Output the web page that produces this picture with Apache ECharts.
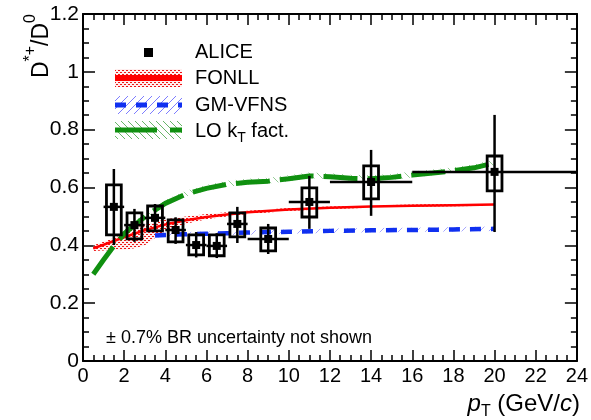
<!DOCTYPE html>
<html><head><meta charset="utf-8">
<script src="https://cdn.jsdelivr.net/npm/echarts@6/dist/echarts.min.js"></script>
<style>html,body{margin:0;padding:0;background:#fff}#c{width:591px;height:420px}</style>
</head><body><div id="c"></div>
<script>
// ---------------- data ----------------
const aliceX    = [1.5, 2.5, 3.5, 4.5, 5.5, 6.5, 7.5, 9, 11, 14, 20];
const aliceXLo  = [1, 2, 3, 4, 5, 6, 7, 8, 10, 12, 16];
const aliceXHi  = [2, 3, 4, 5, 6, 7, 8, 10, 12, 16, 24];
const aliceY    = [0.533, 0.470, 0.495, 0.453, 0.401, 0.398, 0.474, 0.422, 0.550, 0.619, 0.654];
const aliceStatLo = [0.401, 0.412, 0.446, 0.405, 0.358, 0.356, 0.408, 0.370, 0.457, 0.502, 0.446];
const aliceStatHi = [0.664, 0.526, 0.543, 0.497, 0.446, 0.442, 0.533, 0.474, 0.640, 0.730, 0.851];
const aliceSysLo  = [0.436, 0.422, 0.450, 0.412, 0.367, 0.364, 0.429, 0.381, 0.498, 0.561, 0.588];
const aliceSysHi  = [0.609, 0.512, 0.536, 0.488, 0.436, 0.436, 0.512, 0.460, 0.599, 0.675, 0.709];

const fonllX  = [0.5, 1, 1.5, 2, 2.5, 3, 3.5, 4, 5, 6, 7, 8, 10, 12, 14, 16, 18, 20];
const fonllC  = [0.390, 0.402, 0.415, 0.428, 0.440, 0.452, 0.462, 0.472, 0.487, 0.498, 0.507, 0.514, 0.524, 0.530, 0.534, 0.537, 0.539, 0.541];
const fonllLo = [0.380, 0.382, 0.385, 0.385, 0.390, 0.400, 0.425, 0.450, 0.475, 0.490, 0.500, 0.508, 0.519, 0.526, 0.530, 0.533, 0.535, 0.537];
const fonllHi = [0.400, 0.412, 0.425, 0.440, 0.460, 0.470, 0.480, 0.490, 0.500, 0.508, 0.514, 0.520, 0.529, 0.534, 0.538, 0.541, 0.543, 0.545];

const gmX  = [3.5, 4, 5, 6, 7, 8, 10, 12, 14, 16, 18, 20];
const gmC  = [0.434, 0.436, 0.438, 0.440, 0.442, 0.444, 0.447, 0.450, 0.452, 0.453, 0.455, 0.457];
const gmLo = [0.427, 0.429, 0.431, 0.433, 0.435, 0.437, 0.440, 0.443, 0.445, 0.446, 0.448, 0.450];
const gmHi = [0.442, 0.444, 0.446, 0.448, 0.450, 0.452, 0.455, 0.458, 0.460, 0.461, 0.463, 0.465];

const loX  = [0.5, 1, 1.5, 2, 2.5, 3, 3.5, 4, 5, 6, 7, 8, 9, 10, 11, 12, 13, 14, 15, 16, 17, 18, 19, 20];
const loC  = [0.300, 0.350, 0.398, 0.440, 0.470, 0.498, 0.522, 0.545, 0.577, 0.597, 0.611, 0.618, 0.622, 0.630, 0.640, 0.637, 0.632, 0.630, 0.635, 0.643, 0.650, 0.658, 0.668, 0.685];
const loLo = [0.292, 0.342, 0.390, 0.432, 0.462, 0.490, 0.514, 0.537, 0.569, 0.589, 0.603, 0.610, 0.614, 0.622, 0.632, 0.629, 0.624, 0.622, 0.627, 0.635, 0.642, 0.650, 0.660, 0.677];
const loHi = [0.312, 0.362, 0.410, 0.452, 0.482, 0.510, 0.534, 0.557, 0.589, 0.609, 0.623, 0.630, 0.634, 0.642, 0.652, 0.649, 0.644, 0.642, 0.647, 0.655, 0.662, 0.670, 0.680, 0.697];

const FONT = "'Liberation Sans', Arial, Helvetica, sans-serif";

// ---------------- patterns ----------------
function dotPattern(color) {
  const c = document.createElement('canvas'); c.width = 4; c.height = 4;
  const g = c.getContext('2d');
  g.fillStyle = 'rgba(255,210,210,0.35)'; g.fillRect(0, 0, 4, 4);
  g.fillStyle = color;
  g.fillRect(0, 0, 2, 1); g.fillRect(2, 2, 2, 1);
  return { image: c, repeat: 'repeat' };
}
function hatchPattern(color, dir, size) {
  const c = document.createElement('canvas'); c.width = size; c.height = size;
  const g = c.getContext('2d');
  g.strokeStyle = color; g.lineWidth = 1;
  g.beginPath();
  if (dir > 0) {
    g.moveTo(0, size); g.lineTo(size, 0);
    g.moveTo(-2, 2); g.lineTo(2, -2);
    g.moveTo(size - 2, size + 2); g.lineTo(size + 2, size - 2);
  } else {
    g.moveTo(0, 0); g.lineTo(size, size);
    g.moveTo(-2, size - 2); g.lineTo(2, size + 2);
    g.moveTo(size - 2, -2); g.lineTo(size + 2, 2);
  }
  g.stroke();
  return { image: c, repeat: 'repeat' };
}
const redDots = dotPattern('rgba(235,0,0,0.9)');
const blueHatch = hatchPattern('rgba(80,80,255,0.5)', 1, 9);
const greenHatch = hatchPattern('rgba(40,150,40,0.5)', -1, 8);
const blueHatchLeg = hatchPattern('rgba(70,70,255,0.7)', 1, 8);
const greenHatchLeg = hatchPattern('rgba(40,150,40,0.7)', -1, 7);

function bandSeries(xs, lo, hi, fill, z) {
  return {
    type: 'custom', coordinateSystem: 'cartesian2d', silent: true, z: z,
    data: [[xs[0], lo[0]]],
    renderItem: function (params, api) {
      const pts = [];
      for (let i = 0; i < xs.length; i++) pts.push(api.coord([xs[i], hi[i]]));
      for (let i = xs.length - 1; i >= 0; i--) pts.push(api.coord([xs[i], lo[i]]));
      return { type: 'polygon', shape: { points: pts }, style: { fill: fill, stroke: null } };
    }
  };
}
const zip = (a, b) => a.map((v, i) => [v, b[i]]);

const aliceData = aliceX.map((x, i) => [x, aliceY[i], aliceXLo[i], aliceXHi[i], aliceStatLo[i], aliceStatHi[i], aliceSysLo[i], aliceSysHi[i]]);

function axisCommon(extra) {
  return Object.assign({
    type: 'value',
    splitLine: { show: false },
    axisLine: { show: true, onZero: false, lineStyle: { color: '#000', width: 2 } },
    axisTick: { show: true, inside: true, length: 12, lineStyle: { color: '#000', width: 1.5 } },
    minorTick: { show: true, splitNumber: 4, length: 6, lineStyle: { color: '#000', width: 1.5 } },
    minorSplitLine: { show: false },
    axisLabel: { fontSize: 20, color: '#000', fontFamily: FONT, margin: 5 }
  }, extra);
}

const chart = echarts.init(document.getElementById('c'), null, { renderer: 'canvas' });
chart.setOption({
  animation: false,
  backgroundColor: '#fff',
  grid: { left: 83, right: 10, top: 14, bottom: 59, containLabel: false },
  xAxis: [
    axisCommon({ min: 0, max: 24, interval: 2, position: 'bottom', axisTick: { show: true, inside: true, length: 11, lineStyle: { color: '#000', width: 1.5 } } }),
    axisCommon({ min: 0, max: 24, interval: 2, position: 'top', axisLabel: { show: false }, axisTick: { show: true, inside: true, length: 11, lineStyle: { color: '#000', width: 1.5 } } })
  ],
  yAxis: [
    axisCommon({ min: 0, max: 1.2, interval: 0.2, position: 'left', axisLabel: { fontSize: 21, color: '#000', fontFamily: FONT, margin: 4 } }),
    axisCommon({ min: 0, max: 1.2, interval: 0.2, position: 'right', axisLabel: { show: false } })
  ],
  series: [
    bandSeries(fonllX, fonllLo, fonllHi, redDots, 1),
    bandSeries(gmX, gmLo, gmHi, blueHatch, 1),
    bandSeries(loX, loLo, loHi, greenHatch, 1),
    { name: 'FONLL', type: 'line', data: zip(fonllX, fonllC), showSymbol: false, symbol: 'none', z: 3,
      lineStyle: { color: '#ff0000', width: 2.5 } },
    { name: 'GM-VFNS', type: 'line', data: zip(gmX, gmC), showSymbol: false, symbol: 'none', z: 3,
      lineStyle: { color: '#1030f0', width: 4.5, type: [11, 10] } },
    { name: 'LO kT fact.', type: 'line', data: zip(loX, loC), showSymbol: false, symbol: 'none', z: 3,
      lineStyle: { color: '#109010', width: 5, type: [34, 10] } },
    { name: 'ALICE', type: 'custom', coordinateSystem: 'cartesian2d', z: 5, data: aliceData,
      renderItem: function (params, api) {
        const x = api.value(0), y = api.value(1);
        const c = api.coord([x, y]);
        const hl = api.coord([api.value(2), y]), hr = api.coord([api.value(3), y]);
        const vt = api.coord([x, api.value(5)]), vb = api.coord([x, api.value(4)]);
        const bt = api.coord([x - 0.36, api.value(7)]), bb = api.coord([x + 0.36, api.value(6)]);
        const ls = { stroke: '#000', lineWidth: 2.5 };
        return { type: 'group', children: [
          { type: 'line', shape: { x1: hl[0], y1: hl[1], x2: hr[0], y2: hr[1] }, style: ls },
          { type: 'line', shape: { x1: vt[0], y1: vt[1], x2: vb[0], y2: vb[1] }, style: ls },
          { type: 'rect', shape: { x: bt[0], y: bt[1], width: bb[0] - bt[0], height: bb[1] - bt[1] },
            style: { fill: null, stroke: '#000', lineWidth: 2.8 } },
          { type: 'rect', shape: { x: c[0] - 4, y: c[1] - 4, width: 8, height: 8 }, style: { fill: '#000' } }
        ] };
      }
    }
  ],
  graphic: [
    // y axis title
    { type: 'text', x: 38, y: 14, rotation: Math.PI / 2, z: 10,
      style: { text: '{n|D}{s|*+}{n|/D}{s|0}', align: 'right', verticalAlign: 'middle', fill: '#000',
        rich: { n: { fontSize: 23, fontFamily: FONT, fill: '#000', lineHeight: 30, verticalAlign: 'bottom' },
                s: { fontSize: 16, fontFamily: FONT, fill: '#000', lineHeight: 30, verticalAlign: 'top' } } } },
    // x axis title
    { type: 'text', x: 580, y: 404, z: 10,
      style: { text: '{i|p}{sub|T}{n| (GeV/}{i|c}{n|)}', align: 'right', verticalAlign: 'middle', fill: '#000',
        rich: { n: { fontSize: 24, fontFamily: FONT, fill: '#000', lineHeight: 32, verticalAlign: 'middle' },
                i: { fontSize: 24, fontFamily: FONT, fontStyle: 'italic', fill: '#000', lineHeight: 32, verticalAlign: 'middle' },
                sub: { fontSize: 16, fontFamily: FONT, fill: '#000', lineHeight: 32, verticalAlign: 'bottom' } } } },
    // note
    { type: 'text', x: 106, y: 338, z: 10,
      style: { text: '\u00B1 0.7% BR uncertainty not shown', fontSize: 18, fontFamily: FONT, fill: '#000', align: 'left', verticalAlign: 'middle' } },
    // legend: ALICE
    { type: 'rect', shape: { x: 144, y: 48, width: 9, height: 9 }, style: { fill: '#000' }, z: 10 },
    { type: 'text', x: 195, y: 52, z: 10, style: { text: 'ALICE', fontSize: 20, fontFamily: FONT, fill: '#000', verticalAlign: 'middle' } },
    // FONLL
    { type: 'rect', shape: { x: 115, y: 69, width: 67, height: 18 }, style: { fill: redDots }, z: 10 },
    { type: 'line', shape: { x1: 115, y1: 78, x2: 182, y2: 78 }, style: { stroke: '#ff0000', lineWidth: 6 }, z: 10 },
    { type: 'text', x: 195, y: 78, z: 10, style: { text: 'FONLL', fontSize: 20, fontFamily: FONT, fill: '#000', verticalAlign: 'middle' } },
    // GM-VFNS
    { type: 'rect', shape: { x: 115, y: 96, width: 67, height: 18 }, style: { fill: blueHatchLeg }, z: 10 },
    { type: 'line', shape: { x1: 115, y1: 105, x2: 182, y2: 105 }, style: { stroke: '#1030f0', lineWidth: 5, lineDash: [11, 10] }, z: 10 },
    { type: 'text', x: 195, y: 105, z: 10, style: { text: 'GM-VFNS', fontSize: 20, fontFamily: FONT, fill: '#000', verticalAlign: 'middle' } },
    // LO kT
    { type: 'rect', shape: { x: 115, y: 121, width: 67, height: 18 }, style: { fill: greenHatchLeg }, z: 10 },
    { type: 'line', shape: { x1: 115, y1: 130, x2: 182, y2: 130 }, style: { stroke: '#109010', lineWidth: 5, lineDash: [42, 13] }, z: 10 },
    { type: 'text', x: 195, y: 131, z: 10,
      style: { text: '{n|LO k}{s|T}{n| fact.}', verticalAlign: 'middle', fill: '#000',
        rich: { n: { fontSize: 20, fontFamily: FONT, fill: '#000', lineHeight: 28, verticalAlign: 'middle' },
                s: { fontSize: 14, fontFamily: FONT, fill: '#000', lineHeight: 28, verticalAlign: 'bottom' } } } }
  ]
});
</script>
</body></html>
